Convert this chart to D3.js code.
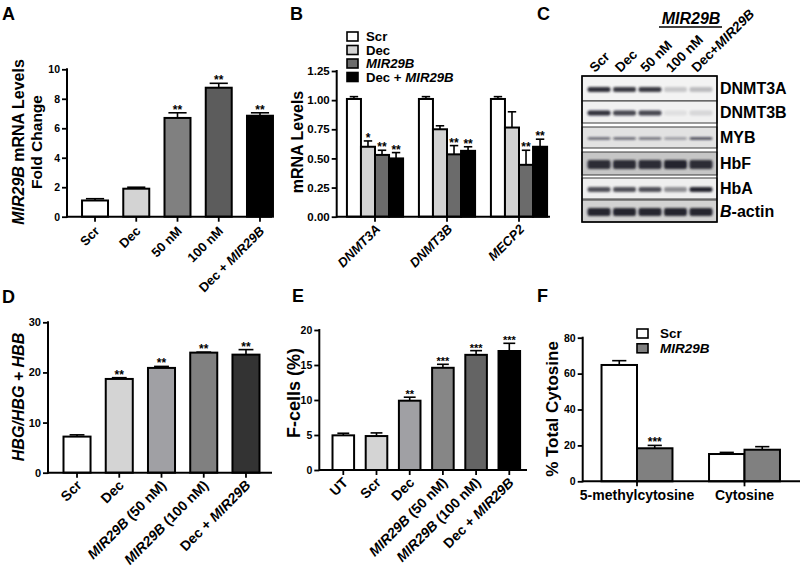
<!DOCTYPE html>
<html><head><meta charset="utf-8">
<script src="https://cdn.jsdelivr.net/npm/d3@7"></script>
<style>
body{margin:0;background:#fff;}
svg{display:block;font-family:"Liberation Sans",Arial,Helvetica,sans-serif;font-weight:bold;}
</style></head><body>
<svg id="fig" width="800" height="572"></svg>
<script>
// ---------- DATA ----------
// Panel A
const aCats = ["Scr", "Dec", "50 nM", "100 nM", "Dec + MIR29B"];
const aMeans = [1.1, 1.9, 6.7, 8.75, 6.85];
const aErrs = [0.12, 0.1, 0.35, 0.3, 0.2];
const aStars = ["", "", "**", "**", "**"];
const aTicks = [0, 2, 4, 6, 8, 10];
// Panel B
const bGenes = ["DNMT3A", "DNMT3B", "MECP2"];
const bSeries = ["Scr", "Dec", "MIR29B", "Dec + MIR29B"];
const bMeans = [[1.01, 0.60, 0.53, 0.50], [1.01, 0.75, 0.535, 0.565], [1.01, 0.765, 0.445, 0.60]];
const bErrs = [[0.02, 0.05, 0.04, 0.05], [0.02, 0.03, 0.075, 0.035], [0.02, 0.135, 0.125, 0.065]];
const bStars = [["", "*", "**", "**"], ["", "", "**", "**"], ["", "", "**", "**"]];
const bTicks = [0, 0.25, 0.5, 0.75, 1.0, 1.25];
// Panel C (western blot)
const blotLanes = ["Scr", "Dec", "50 nM", "100 nM", "Dec+MIR29B"];
const blotProteins = ["DNMT3A", "DNMT3B", "MYB", "HbF", "HbA", "B-actin"];
const blotIntensity = [
  [0.9, 0.85, 0.85, 0.2, 0.25],
  [0.9, 0.8, 0.8, 0.08, 0.12],
  [0.75, 0.75, 0.7, 0.45, 0.95],
  [0.9, 0.9, 0.9, 0.95, 0.9],
  [0.75, 0.75, 0.75, 0.45, 0.95],
  [0.95, 0.95, 0.95, 0.95, 0.95]
];
// Panel D
const dCats = ["Scr", "Dec", "MIR29B (50 nM)", "MIR29B (100 nM)", "Dec + MIR29B"];
const dMeans = [7.2, 18.7, 20.9, 23.95, 23.55];
const dErrs = [0.35, 0.25, 0.3, 0.1, 1.0];
const dStars = ["", "**", "**", "**", "**"];
const dTicks = [0, 10, 20, 30];
// Panel E
const eCats = ["UT", "Scr", "Dec", "MIR29B (50 nM)", "MIR29B (100 nM)", "Dec + MIR29B"];
const eMeans = [4.95, 4.85, 9.9, 14.6, 16.45, 17.0];
const eErrs = [0.3, 0.45, 0.5, 0.5, 0.6, 1.1];
const eStars = ["", "", "**", "***", "***", "***"];
const eTicks = [0, 5, 10, 15, 20];
// Panel F
const fGroups = ["5-methylcytosine", "Cytosine"];
const fSeries = ["Scr", "MIR29B"];
const fMeans = [[64.8, 18.4], [15.2, 17.6]];
const fErrs = [[2.4, 1.6], [0.9, 1.7]];
const fStars = [["", "***"], ["", ""]];
const fTicks = [0, 20, 40, 60, 80];

// ---------- STYLE ----------
const FONT = '"Liberation Sans", Arial, Helvetica, sans-serif';
const aFill = ["#ffffff", "#d3d3d3", "#808080", "#5c5c5c", "#000000"];
const bFill = ["#ffffff", "#d3d3d3", "#6b6b6b", "#000000"];
const dFill = ["#ffffff", "#d4d4d4", "#a0a0a4", "#808080", "#333333"];
const eFill = ["#ffffff", "#d4d4d4", "#a0a0a4", "#868686", "#646464", "#000000"];
const fFill = ["#ffffff", "#808080"];

const svg = d3.select("#fig");
const defs = svg.append("defs");
defs.append("filter").attr("id", "blur").attr("x", "-30%").attr("y", "-100%").attr("width", "160%").attr("height", "300%")
  .append("feGaussianBlur").attr("stdDeviation", "1.1 0.9");

function rich(sel, str, re) {
  const parts = str.split(re || /(MIR29B)/);
  parts.forEach((p, i) => {
    if (!p) return;
    const t = sel.append("tspan").text(p);
    if (i % 2 === 1) t.attr("font-style", "italic");
  });
  return sel;
}

function panelLetter(letter, x, y) {
  svg.append("text").attr("x", x).attr("y", y).attr("font-size", 18).attr("font-weight", "bold").text(letter);
}

function yAxis(x0, y, ticks, fmt, fs) {
  const ax = svg.append("g").attr("transform", `translate(${x0},0)`)
    .call(d3.axisLeft(y).tickValues(ticks).tickFormat(fmt).tickSize(5).tickPadding(2));
  ax.attr("font-family", FONT).attr("font-size", fs).attr("font-weight", "bold");
  ax.select(".domain").remove();
  ax.selectAll(".tick line").attr("stroke", "#000").attr("stroke-width", 1.8);
  ax.selectAll(".tick text").attr("fill", "#000");
  svg.append("line").attr("x1", x0).attr("x2", x0).attr("y1", y.range()[0]).attr("y2", y.range()[1])
    .attr("stroke", "#000").attr("stroke-width", 2).attr("stroke-linecap", "square");
}

function xAxis(x0, x1, yb, centers) {
  svg.append("line").attr("x1", x0).attr("x2", x1).attr("y1", yb).attr("y2", yb)
    .attr("stroke", "#000").attr("stroke-width", 2);
  svg.append("g").selectAll("line").data(centers).join("line")
    .attr("x1", d => d).attr("x2", d => d).attr("y1", yb).attr("y2", yb + 5)
    .attr("stroke", "#000").attr("stroke-width", 1.8);
}

function drawBars(items, y, capFrac, starFs) {
  const g = svg.append("g");
  g.selectAll("rect").data(items).join("rect")
    .attr("x", d => d.x).attr("y", d => y(d.v)).attr("width", d => d.w)
    .attr("height", d => y(0) - y(d.v)).attr("fill", d => d.color)
    .attr("stroke", "#000").attr("stroke-width", 2);
  g.selectAll("line.ev").data(items).join("line").attr("class", "ev")
    .attr("x1", d => d.x + d.w / 2).attr("x2", d => d.x + d.w / 2)
    .attr("y1", d => y(d.v)).attr("y2", d => y(d.v + d.e))
    .attr("stroke", "#000").attr("stroke-width", 1.6);
  g.selectAll("line.cap").data(items).join("line").attr("class", "cap")
    .attr("x1", d => d.x + d.w / 2 - d.w * capFrac / 2).attr("x2", d => d.x + d.w / 2 + d.w * capFrac / 2)
    .attr("y1", d => y(d.v + d.e)).attr("y2", d => y(d.v + d.e))
    .attr("stroke", "#000").attr("stroke-width", 1.6);
  g.selectAll("text").data(items.filter(d => d.star)).join("text")
    .attr("x", d => d.x + d.w / 2).attr("y", d => y(d.v + d.e) + 1)
    .attr("text-anchor", "middle").attr("font-size", starFs).attr("font-weight", "bold").text(d => d.star);
}

function rotLabels(cats, xc, yb, dx, dy, fs, re) {
  cats.forEach(c => {
    const t = svg.append("text")
      .attr("transform", `translate(${xc(c) + dx},${yb + dy}) rotate(-45)`)
      .attr("text-anchor", "end").attr("dy", "0.35em").attr("font-size", fs);
    rich(t, c, re);
  });
}

function yLabel(str, x, y, fs, re) {
  const t = svg.append("text").attr("transform", `translate(${x},${y}) rotate(-90)`)
    .attr("text-anchor", "middle").attr("font-size", fs);
  rich(t, str, re);
}

// ---------- PANEL A ----------
{
  const y = d3.scaleLinear().domain([0, 10]).range([216.7, 69.3]);
  const x = d3.scaleBand().domain(aCats).range([74.4, 280.6]).paddingInner(0.37).paddingOuter(0.185);
  const items = aCats.map((c, i) => ({ x: x(c), w: x.bandwidth(), v: aMeans[i], e: aErrs[i], star: aStars[i], color: aFill[i] }));
  drawBars(items, y, 0.7, 12);
  yAxis(67, y, aTicks, d3.format("d"), 10.5);
  xAxis(67, 272, 216.7, aCats.map(c => x(c) + x.bandwidth() / 2));
  rotLabels(aCats, c => x(c) + x.bandwidth() / 2, 216.7, 2, 12, 13);
  yLabel("MIR29B mRNA Levels", 23.5, 142, 16);
  yLabel("Fold Change", 41.5, 142, 15.5);
  panelLetter("A", 2, 20);
}

// ---------- PANEL B ----------
{
  const y = d3.scaleLinear().domain([0, 1.25]).range([216.7, 71]);
  const x0 = d3.scaleBand().domain(bGenes).range([339, 555]).paddingInner(0.22).paddingOuter(0.11);
  const x1 = d3.scaleBand().domain(bSeries).range([0, x0.bandwidth()]);
  const items = [];
  bGenes.forEach((g, gi) => bSeries.forEach((s, si) => items.push({
    x: x0(g) + x1(s), w: x1.bandwidth(), v: bMeans[gi][si], e: bErrs[gi][si], star: bStars[gi][si], color: bFill[si]
  })));
  drawBars(items, y, 0.6, 12);
  yAxis(336.7, y, bTicks, d3.format(".2f"), 11.5);
  xAxis(336.7, 550, 216.7, bGenes.map(g => x0(g) + x0.bandwidth() / 2));
  rotLabels(bGenes, g => x0(g) + x0.bandwidth() / 2, 216.7, 3, 10, 13, /(.+)/);
  yLabel("mRNA Levels", 303, 142, 16);
  // legend
  const lg = svg.append("g");
  bSeries.forEach((s, i) => {
    const ry = 36.5 + i * 13.5;
    lg.append("rect").attr("x", 347).attr("y", ry - 4.5).attr("width", 11).attr("height", 9)
      .attr("fill", bFill[i]).attr("stroke", "#000").attr("stroke-width", 1.6);
    rich(lg.append("text").attr("x", 366).attr("y", ry + 4.7).attr("font-size", 13.2), s);
  });
  panelLetter("B", 290, 20);
}

// ---------- PANEL C ----------
{
  const rowsY = [[76, 101], [101, 123], [127, 148], [152, 175], [178, 199], [200, 222]];
  const rowBg = ["#f3f3f3", "#f1f1f1", "#e2e2e2", "#c6c6c6", "#efefef", "#d2d2d2"];
  const bandH = [5, 5, 2.2, 9, 5, 8];
  const lane = d3.scaleBand().domain(blotLanes).range([585, 715]).padding(0.1);
  const g = svg.append("g");
  blotProteins.forEach((p, r) => {
    const [y0, y1] = rowsY[r];
    g.append("rect").attr("x", 582).attr("y", y0).attr("width", 135).attr("height", y1 - y0)
      .attr("fill", rowBg[r]).attr("stroke", "#3a3a3a").attr("stroke-width", 1);
    const cy = (y0 + y1) / 2 + 1;
    blotLanes.forEach((l, li) => {
      const a = blotIntensity[r][li];
      g.append("rect").attr("x", lane(l)).attr("y", cy - bandH[r] / 2).attr("width", lane.bandwidth())
        .attr("height", bandH[r]).attr("rx", 2).attr("fill", "#1a1a26").attr("opacity", a)
        .attr("filter", "url(#blur)");
    });
    const t = svg.append("text").attr("x", 720).attr("y", (y0 + y1) / 2 + 5.5).attr("font-size", 16);
    rich(t, p, /^(B)(?=-)/);
  });
  g.append("rect").attr("x", 582).attr("y", 76).attr("width", 135).attr("height", 146)
    .attr("fill", "none").attr("stroke", "#000").attr("stroke-width", 1.6);
  blotLanes.forEach(l => {
    const t = svg.append("text").attr("transform", `translate(${lane(l) + lane.bandwidth() / 2 - 4},73) rotate(-45)`)
      .attr("font-size", 13.5);
    rich(t, l);
  });
  svg.append("text").attr("x", 691).attr("y", 24).attr("text-anchor", "middle").attr("font-size", 16)
    .attr("font-style", "italic").text("MIR29B");
  svg.append("line").attr("x1", 659).attr("x2", 722).attr("y1", 27).attr("y2", 27).attr("stroke", "#000").attr("stroke-width", 1.6);
  panelLetter("C", 537, 20);
}

// ---------- PANEL D ----------
{
  const y = d3.scaleLinear().domain([0, 30]).range([472.7, 322.3]);
  const x = d3.scaleBand().domain(dCats).range([55.9, 267.1]).paddingInner(0.36).paddingOuter(0.18);
  const items = dCats.map((c, i) => ({ x: x(c), w: x.bandwidth(), v: dMeans[i], e: dErrs[i], star: dStars[i], color: dFill[i] }));
  drawBars(items, y, 0.55, 12);
  yAxis(48, y, dTicks, d3.format("d"), 11);
  xAxis(48, 272, 472.7, dCats.map(c => x(c) + x.bandwidth() / 2));
  rotLabels(dCats, c => x(c) + x.bandwidth() / 2, 472.7, 2, 10, 14);
  yLabel("HBG/HBG + HBB", 24, 397, 16, /(.+)/);
  panelLetter("D", 2, 303);
}

// ---------- PANEL E ----------
{
  const y = d3.scaleLinear().domain([0, 20]).range([470, 330]);
  const x = d3.scaleBand().domain(eCats).range([326.7, 525.9]).paddingInner(0.35).paddingOuter(0.175);
  const items = eCats.map((c, i) => ({ x: x(c), w: x.bandwidth(), v: eMeans[i], e: eErrs[i], star: eStars[i], color: eFill[i] }));
  drawBars(items, y, 0.55, 11);
  yAxis(319.3, y, eTicks, d3.format("d"), 10.5);
  xAxis(319.3, 527, 470, eCats.map(c => x(c) + x.bandwidth() / 2));
  rotLabels(eCats, c => x(c) + x.bandwidth() / 2, 470, 2, 10, 14);
  yLabel("F-cells (%)", 300, 393, 18, /(?!)/);
  panelLetter("E", 292, 302);
}

// ---------- PANEL F ----------
{
  const y = d3.scaleLinear().domain([0, 80]).range([481.3, 337.7]);
  const x0 = d3.scaleBand().domain(fGroups).range([583.25, 798.25]).paddingInner(0.34).paddingOuter(0.17);
  const x1 = d3.scaleBand().domain(fSeries).range([0, x0.bandwidth()]);
  const items = [];
  fGroups.forEach((g, gi) => fSeries.forEach((s, si) => items.push({
    x: x0(g) + x1(s), w: x1.bandwidth(), v: fMeans[gi][si], e: fErrs[gi][si], star: fStars[gi][si], color: fFill[si]
  })));
  drawBars(items, y, 0.4, 12);
  yAxis(582.7, y, fTicks, d3.format("d"), 10.5);
  const centers = fGroups.map(g => x0(g) + x0.bandwidth() / 2);
  xAxis(582.7, 800, 481.3, centers);
  fGroups.forEach((g, i) => svg.append("text").attr("x", centers[i]).attr("y", 500)
    .attr("text-anchor", "middle").attr("font-size", 14).text(g));
  yLabel("% Total Cytosine", 558, 409, 17, /(?!)/);
  const lg = svg.append("g");
  fSeries.forEach((s, i) => {
    const ry = 333.5 + i * 14.8;
    lg.append("rect").attr("x", 637).attr("y", ry - 4.5).attr("width", 11).attr("height", 9)
      .attr("fill", fFill[i]).attr("stroke", "#000").attr("stroke-width", 1.6);
    rich(lg.append("text").attr("x", 660).attr("y", ry + 4.8).attr("font-size", 13.5), s);
  });
  panelLetter("F", 537, 302);
}
</script>
</body></html>
